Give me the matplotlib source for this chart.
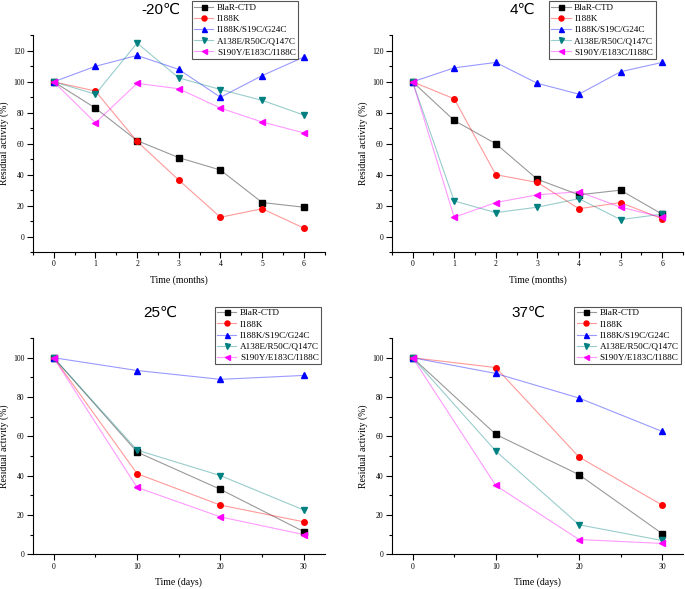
import numpy as np
import matplotlib.pyplot as plt
from matplotlib.ticker import MultipleLocator
from matplotlib.colors import to_rgba

plt.rcParams['font.family'] = ['Liberation Serif', 'DejaVu Serif']

labels = ['BlaR-CTD', 'I188K', 'I188K/S19C/G24C', 'A138E/R50C/Q147C', 'S190Y/E183C/I188C']
colors = ['#000000', '#ff0000', '#0000ff', '#008080', '#ff00ff']
markers = ['s', 'o', '^', 'v', '<']

months = [0, 1, 2, 3, 4, 5, 6]
days = [0, 10, 20, 30]

# -20 C
m20_blar = [100, 83, 62, 51, 43, 22, 19]
m20_i188k = [100, 94, 61.5, 36.5, 12.5, 18, 5.5]
m20_triple = [100, 110, 117, 108, 90, 104, 116]
m20_a138e = [100, 92, 125, 102.5, 95, 88, 78.5]
m20_s190y = [100, 73.5, 99, 95.5, 83, 74, 67]

# 4 C
p4_blar = [100, 75, 60, 37, 27, 30, 14.5]
p4_i188k = [100, 89, 40, 35, 18, 22, 11.5]
p4_triple = [100, 109, 112.5, 99, 92, 106.5, 112.5]
p4_a138e = [100, 23, 15.5, 19, 24.5, 11, 14.5]
p4_s190y = [100, 12.5, 22, 27, 29, 19, 12.5]

# 25 C
p25_blar = [100, 52, 33, 11.5]
p25_i188k = [100, 41, 25, 16.5]
p25_triple = [100, 93.5, 89, 91]
p25_a138e = [100, 53, 40, 22.5]
p25_s190y = [100, 34, 19, 10]

# 37 C
p37_blar = [100, 61, 40.5, 10.5]
p37_i188k = [100, 95, 49.5, 25]
p37_triple = [100, 92, 79.5, 62.5]
p37_a138e = [100, 52.5, 15, 7]
p37_s190y = [100, 35, 7.5, 5.5]

panels = [
    ('-20\u2103', months, [m20_blar, m20_i188k, m20_triple, m20_a138e, m20_s190y], 'Time (months)'),
    ('4\u2103', months, [p4_blar, p4_i188k, p4_triple, p4_a138e, p4_s190y], 'Time (months)'),
    ('25\u2103', days, [p25_blar, p25_i188k, p25_triple, p25_a138e, p25_s190y], 'Time (days)'),
    ('37\u2103', days, [p37_blar, p37_i188k, p37_triple, p37_a138e, p37_s190y], 'Time (days)'),
]

# axes rectangles [left, bottom, width, height]
rects = [[0.048, 0.572, 0.426, 0.368],
         [0.572, 0.572, 0.425, 0.368],
         [0.048, 0.059, 0.426, 0.367],
         [0.572, 0.059, 0.425, 0.367]]
title_x = [0.44, 0.447, 0.435, 0.468]
legend_x = [0.545, 0.54, 0.623, 0.627]

fig = plt.figure(figsize=(6.85, 5.89), dpi=100)

for i, (title, x, series, xlabel) in enumerate(panels):
    ax = fig.add_axes(rects[i])
    for y, lab, c, m in zip(series, labels, colors, markers):
        ax.plot(x, y, color=to_rgba(c, 0.4), lw=0.8, marker=m, ms=4,
                mfc=c, mec=c, label=lab)
    ax.spines['top'].set_visible(False)
    ax.spines['right'].set_visible(False)
    if i < 2:
        ax.set_xlim(-0.5, 6.5)
        ax.set_ylim(-10, 130)
        ax.xaxis.set_major_locator(MultipleLocator(1))
        ax.xaxis.set_minor_locator(MultipleLocator(0.5))
        title_y, leg_y = 1.15, 1.157
    else:
        ax.set_xlim(-2.5, 32.5)
        ax.set_ylim(0, 110)
        ax.xaxis.set_major_locator(MultipleLocator(10))
        ax.xaxis.set_minor_locator(MultipleLocator(5))
        title_y, leg_y = 1.15, 1.145
    ax.set_yticks([v for v in range(0, 121, 20) if v <= ax.get_ylim()[1]])
    ax.yaxis.set_minor_locator(MultipleLocator(10))
    ax.tick_params(which='major', direction='out', length=4, width=0.8, labelsize=5.5, pad=2)
    ax.tick_params(which='minor', direction='out', length=2.5, width=0.8)
    ax.set_xlabel(xlabel, fontsize=7, labelpad=5)
    ax.set_ylabel('Residual activity (%)', fontsize=7, labelpad=3)
    ax.text(title_x[i], title_y, title, transform=ax.transAxes, ha='center', va='top',
            fontsize=11, family=['Liberation Sans', 'DejaVu Sans'])
    leg = ax.legend(loc='upper left', bbox_to_anchor=(legend_x[i], leg_y), fontsize=6.6,
                    frameon=True, fancybox=False, edgecolor='#555555', framealpha=1,
                    labelspacing=0.3, borderpad=0.25, handlelength=2.1, handletextpad=0.4,
                    borderaxespad=0, markerscale=0.9)
    leg.get_frame().set_linewidth(0.8)

plt.savefig('out.png', dpi=100)
